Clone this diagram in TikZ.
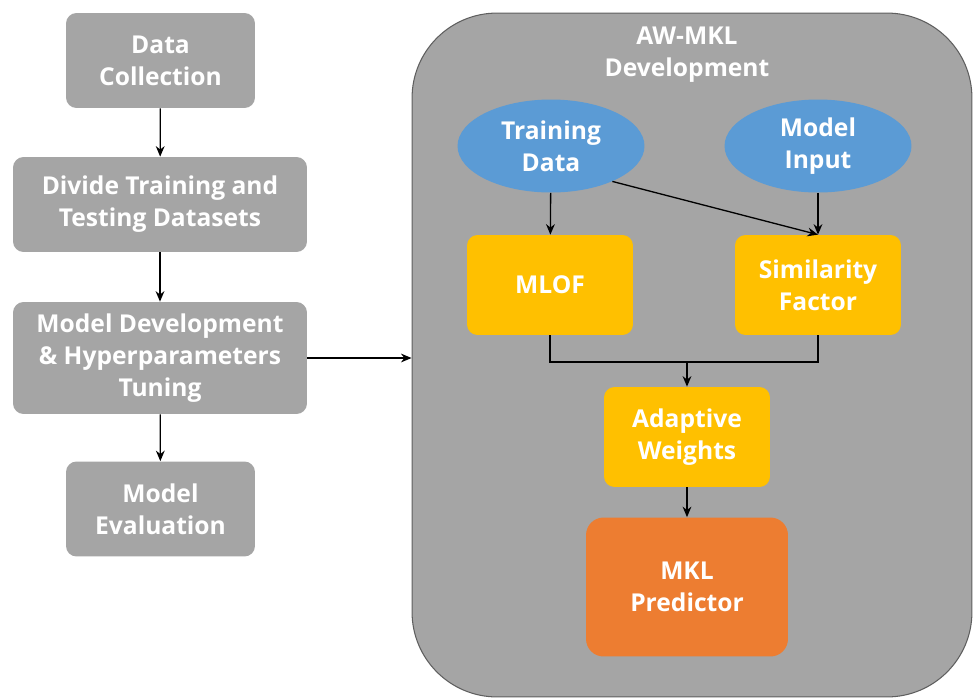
\documentclass[tikz,border=0pt]{standalone}
\usepackage{fontspec}
\setmainfont{Open Sans}
\usepackage{tikz}
\usetikzlibrary{arrows.meta,calc,positioning,shapes.geometric}
\definecolor{boxgray}{HTML}{A5A5A5}
\definecolor{edgegray}{HTML}{5F5F5F}
\definecolor{inblue}{HTML}{5B9BD5}
\definecolor{procyel}{HTML}{FFC000}
\definecolor{outorange}{HTML}{ED7D31}

\begin{document}
\begin{tikzpicture}[x=0.02cm,y=-0.02cm,
  txt/.style={text=white,align=center,font=\fontsize{14}{18.3}\selectfont\bfseries},
  stage/.style={txt,fill=boxgray,rounded corners=6pt,minimum height=1.9cm},
  inp/.style={txt,ellipse,fill=inblue,minimum width=3.74cm,minimum height=1.86cm,inner sep=0pt},
  proc/.style={txt,fill=procyel,rounded corners=6pt,minimum width=3.32cm,minimum height=2.0cm},
  arr/.style={-{Stealth[length=6pt,width=5pt]},line width=0.75pt,black}]
  \useasboundingbox (0,0) rectangle (974,697);
  % container
  \node[draw=edgegray,line width=0.6pt,fill=boxgray,rounded corners=1.7cm,minimum width=11.2cm,minimum height=13.68cm] (awmkl) at (692,355) {};
  \node[txt] (title) at (687,55) {AW-MKL\\Development};
  % left column
  \node[stage,minimum width=3.78cm] (dc) at (160.5,60.5) {Data\\Collection};
  \node[stage,minimum width=5.88cm] (dtt) at (160,204.5) {Divide Training and\\Testing Datasets};
  \node[stage,minimum width=5.88cm,minimum height=2.24cm] (mdt) at (160,358) {Model Development\\\& Hyperparameters\\Tuning};
  \node[stage,minimum width=3.78cm] (me) at (160.5,509) {Model\\Evaluation};
  % inside AW-MKL
  \node[inp] (td) at (551,146) {Training\\Data};
  \node[inp] (mi) at (818,146) {Model\\Input};
  \node[proc] (mlof) at (550,285) {MLOF};
  \node[proc] (sf) at (818,285) {Similarity\\Factor};
  \node[proc] (aw) at (687,437) {Adaptive\\Weights};
  \node[txt,fill=outorange,rounded corners=10pt,minimum width=4.04cm,minimum height=2.78cm] (mkl) at (687,587) {MKL\\Predictor};
  \coordinate (join) at (687,362);

  \draw[arr] (dc) -- (dtt);
  \draw[arr] (dtt) -- (mdt);
  \draw[arr] (mdt) -- (me);
  \draw[arr] (mdt.east) -- (mdt.east -| awmkl.west);
  \draw[arr] (td) -- (mlof);
  \draw[arr] (mi) -- (sf);
  \draw[arr] (td.-30) -- (sf.north);
  \draw[line width=0.75pt] (mlof.south) |- (join);
  \draw[line width=0.75pt] (sf.south) |- (join);
  \draw[arr] (join) -- (aw);
  \draw[arr] (aw) -- (mkl);
\end{tikzpicture}
\end{document}
